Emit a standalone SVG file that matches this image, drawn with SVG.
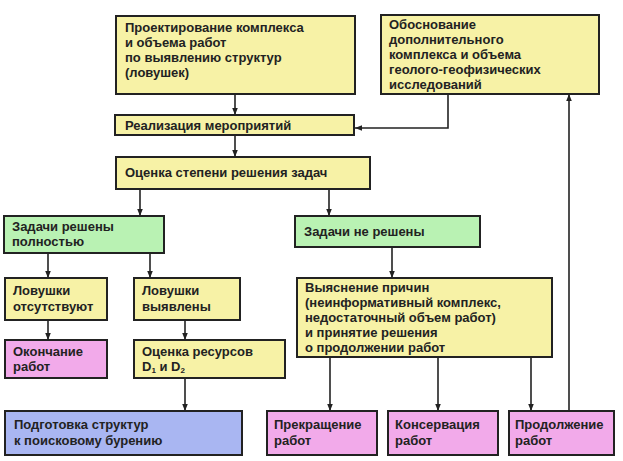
<svg xmlns="http://www.w3.org/2000/svg" width="623" height="461" viewBox="0 0 623 461">
<style>
rect{stroke:#222;stroke-width:2}
.y{fill:#f7f2a6}.g{fill:#b9f2b3}.p{fill:#f2aaea}.b{fill:#a9b6f2}
text{font-family:"Liberation Sans",Arial,sans-serif;font-size:13px;font-weight:bold;fill:#222}
.c line,.c polyline{stroke:#222;stroke-width:1.6;fill:none;marker-end:url(#a)}
</style>
<defs><marker id="a" viewBox="0 0 10 10" refX="10" refY="5" markerWidth="7" markerHeight="7" orient="auto" markerUnits="userSpaceOnUse"><path d="M0,1 L10,5 L0,9 z" fill="#222"/></marker></defs>
<rect width="623" height="461" fill="#fff" style="stroke:none"/>
<g class="c">
<line x1="235" y1="94" x2="235" y2="115"/>
<polyline points="448,94 448,128 355,128"/>
<line x1="235" y1="135" x2="235" y2="157"/>
<line x1="140" y1="189" x2="140" y2="216"/>
<line x1="329" y1="189" x2="329" y2="216"/>
<line x1="48" y1="253" x2="48" y2="278"/>
<line x1="150" y1="253" x2="150" y2="278"/>
<line x1="48" y1="320" x2="48" y2="340"/>
<line x1="185" y1="320" x2="185" y2="340"/>
<line x1="185" y1="378" x2="185" y2="411"/>
<line x1="392" y1="247" x2="392" y2="278"/>
<line x1="330" y1="357" x2="330" y2="411"/>
<line x1="438" y1="357" x2="438" y2="411"/>
<line x1="531" y1="357" x2="531" y2="411"/>
<line x1="569" y1="411" x2="569" y2="94"/>
</g>
<g id="n1"><rect class="y" x="116" y="16" width="239" height="78"/>
<text x="125" y="32">Проектирование комплекса</text><text x="125" y="47">и объема работ</text><text x="125" y="62">по выявлению структур</text><text x="125" y="77">(ловушек)</text></g>
<g id="n2"><rect class="y" x="381" y="15" width="218" height="79"/>
<text x="389" y="29">Обоснование</text><text x="389" y="44">дополнительного</text><text x="389" y="59">комплекса и объема</text><text x="389" y="74">геолого-геофизических</text><text x="389" y="89">исследований</text></g>
<g id="n3"><rect class="y" x="115" y="115" width="239" height="20"/><text x="125" y="130">Реализация мероприятий</text></g>
<g id="n4"><rect class="y" x="116" y="157" width="254" height="32"/><text x="125" y="177">Оценка степени решения задач</text></g>
<g id="n5"><rect class="g" x="4" y="216" width="160" height="37"/><text x="12" y="231">Задачи решены</text><text x="12" y="246">полностью</text></g>
<g id="n6"><rect class="g" x="295" y="216" width="185" height="31"/><text x="304" y="236">Задачи не решены</text></g>
<g id="n7"><rect class="y" x="5" y="278" width="102" height="42"/><text x="13" y="295">Ловушки</text><text x="13" y="311">отсутствуют</text></g>
<g id="n8"><rect class="y" x="134" y="278" width="106" height="42"/><text x="142" y="295">Ловушки</text><text x="142" y="311">выявлены</text></g>
<g id="n9"><rect class="p" x="5" y="340" width="102" height="38"/><text x="13" y="356">Окончание</text><text x="13" y="371">работ</text></g>
<g id="n10"><rect class="y" x="134" y="340" width="151" height="38"/><text x="142" y="356">Оценка ресурсов</text><text x="142" y="371">D<tspan font-size="8" dy="2">1</tspan><tspan dy="-2"> и D</tspan><tspan font-size="8" dy="2">2</tspan></text></g>
<g id="n11"><rect class="b" x="5" y="411" width="237" height="44"/><text x="14" y="429">Подготовка структур</text><text x="14" y="445">к поисковому бурению</text></g>
<g id="n12"><rect class="y" x="297" y="278" width="255" height="79"/>
<text x="305" y="292">Выяснение причин</text><text x="305" y="307">(неинформативный комплекс,</text><text x="305" y="322">недостаточный объем работ)</text><text x="305" y="337">и  принятие решения</text><text x="305" y="352">о продолжении работ</text></g>
<g id="n13"><rect class="p" x="267" y="411" width="110" height="44"/><text x="274" y="429">Прекращение</text><text x="274" y="445">работ</text></g>
<g id="n14"><rect class="p" x="388" y="411" width="110" height="44"/><text x="395" y="429">Консервация</text><text x="395" y="445">работ</text></g>
<g id="n15"><rect class="p" x="509" y="411" width="105" height="44"/><text x="515" y="429">Продолжение</text><text x="515" y="445">работ</text></g>
</svg>
